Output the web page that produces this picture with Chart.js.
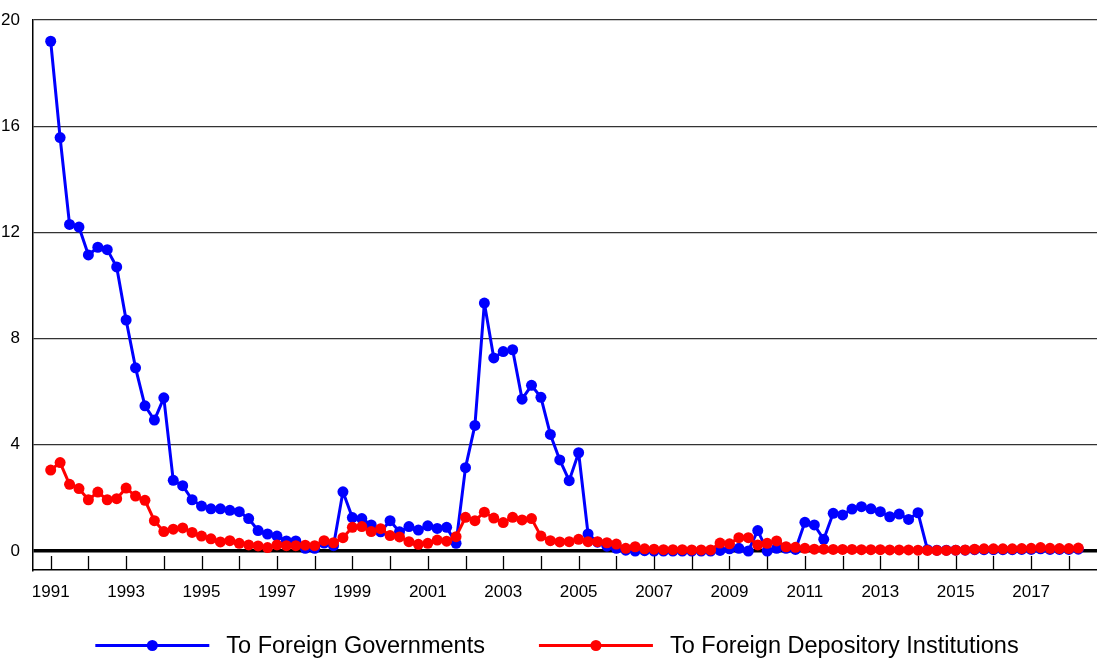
<!DOCTYPE html>
<html><head><meta charset="utf-8">
<script src="https://cdn.jsdelivr.net/npm/chart.js@4.4.0/dist/chart.umd.min.js"></script>
<style>html,body{margin:0;padding:0;background:#fff;}#wrap{width:1097px;height:662px;position:relative;}</style>
</head><body><div id="wrap"><canvas id="c" width="1097" height="662"></canvas></div>
<script>
const quarters = [
 '1991 Q1','1991 Q2','1991 Q3','1991 Q4','1992 Q1','1992 Q2','1992 Q3','1992 Q4',
 '1993 Q1','1993 Q2','1993 Q3','1993 Q4','1994 Q1','1994 Q2','1994 Q3','1994 Q4',
 '1995 Q1','1995 Q2','1995 Q3','1995 Q4','1996 Q1','1996 Q2','1996 Q3','1996 Q4',
 '1997 Q1','1997 Q2','1997 Q3','1997 Q4','1998 Q1','1998 Q2','1998 Q3','1998 Q4',
 '1999 Q1','1999 Q2','1999 Q3','1999 Q4','2000 Q1','2000 Q2','2000 Q3','2000 Q4',
 '2001 Q1','2001 Q2','2001 Q3','2001 Q4','2002 Q1','2002 Q2','2002 Q3','2002 Q4',
 '2003 Q1','2003 Q2','2003 Q3','2003 Q4','2004 Q1','2004 Q2','2004 Q3','2004 Q4',
 '2005 Q1','2005 Q2','2005 Q3','2005 Q4','2006 Q1','2006 Q2','2006 Q3','2006 Q4',
 '2007 Q1','2007 Q2','2007 Q3','2007 Q4','2008 Q1','2008 Q2','2008 Q3','2008 Q4',
 '2009 Q1','2009 Q2','2009 Q3','2009 Q4','2010 Q1','2010 Q2','2010 Q3','2010 Q4',
 '2011 Q1','2011 Q2','2011 Q3','2011 Q4','2012 Q1','2012 Q2','2012 Q3','2012 Q4',
 '2013 Q1','2013 Q2','2013 Q3','2013 Q4','2014 Q1','2014 Q2','2014 Q3','2014 Q4',
 '2015 Q1','2015 Q2','2015 Q3','2015 Q4','2016 Q1','2016 Q2','2016 Q3','2016 Q4',
 '2017 Q1','2017 Q2','2017 Q3','2017 Q4','2018 Q1','2018 Q2'
];
const foreignGovernments = [
 19.2, 15.57, 12.3, 12.2, 11.15, 11.44, 11.35, 10.7, 8.7, 6.9,
 5.47, 4.93, 5.77, 2.66, 2.46, 1.93, 1.69, 1.59, 1.59, 1.53,
 1.48, 1.22, 0.77, 0.64, 0.56, 0.38, 0.38, 0.1, 0.1, 0.3,
 0.2, 2.23, 1.26, 1.22, 0.98, 0.72, 1.14, 0.72, 0.92, 0.79,
 0.95, 0.85, 0.89, 0.29, 3.14, 4.73, 9.34, 7.27, 7.51, 7.58,
 5.72, 6.24, 5.79, 4.39, 3.43, 2.65, 3.70, 0.64, 0.33, 0.18,
 0.1, 0.03, 0, 0.01, 0, 0, 0, 0, 0, 0,
 0, 0.02, 0.08, 0.1, 0, 0.77, 0, 0.1, 0.1, 0.06,
 1.08, 0.98, 0.44, 1.42, 1.36, 1.58, 1.67, 1.59, 1.48, 1.29,
 1.39, 1.19, 1.44, 0.05, 0.03, 0.03, 0.03, 0.03, 0.05, 0.05,
 0.05, 0.05, 0.05, 0.06, 0.06, 0.08, 0.06, 0.06, 0.06, 0.07
];
const foreignDepository = [
 3.05, 3.33, 2.51, 2.35, 1.93, 2.22, 1.93, 1.97, 2.37, 2.07,
 1.91, 1.14, 0.73, 0.82, 0.87, 0.70, 0.56, 0.46, 0.34, 0.39,
 0.29, 0.23, 0.19, 0.13, 0.23, 0.2, 0.2, 0.22, 0.2, 0.39,
 0.31, 0.5, 0.89, 0.92, 0.73, 0.84, 0.58, 0.53, 0.35, 0.25,
 0.29, 0.41, 0.37, 0.54, 1.27, 1.14, 1.46, 1.24, 1.07, 1.27,
 1.17, 1.22, 0.56, 0.39, 0.34, 0.35, 0.44, 0.35, 0.35, 0.31,
 0.26, 0.1, 0.16, 0.08, 0.07, 0.05, 0.05, 0.05, 0.04, 0.04,
 0.04, 0.3, 0.27, 0.5, 0.5, 0.23, 0.29, 0.38, 0.16, 0.14,
 0.1, 0.07, 0.07, 0.06, 0.06, 0.06, 0.05, 0.05, 0.05, 0.04,
 0.04, 0.04, 0.03, 0.02, 0.02, 0.02, 0.03, 0.04, 0.07, 0.08,
 0.08, 0.08, 0.08, 0.09, 0.1, 0.13, 0.1, 0.09, 0.09, 0.11
];
const seriesNames = ['To Foreign Governments', 'To Foreign Depository Institutions'];
const seriesColors = ['#0000ff', '#ff0000'];
const yTickValues = [0, 4, 8, 12, 16, 20];
const xTickYears = [1991,1992,1993,1994,1995,1996,1997,1998,1999,2000,2001,2002,2003,2004,
  2005,2006,2007,2008,2009,2010,2011,2012,2013,2014,2015,2016,2017,2018];
const xLabelYears = [1991,1993,1995,1997,1999,2001,2003,2005,2007,2009,2011,2013,2015,2017];

const FONT = '"Liberation Sans", Arial, sans-serif';
const quarterToX = q => parseInt(q.slice(0, 4), 10) + (parseInt(q.slice(-1), 10) - 1) / 4;
const toPoints = vals => quarters.map((q, i) => ({ x: quarterToX(q), y: vals[i] }));

const tickMarks = {
  id: 'tickMarks',
  beforeDatasetsDraw(chart) {
    const { ctx, chartArea } = chart;
    const xs = chart.scales.x;
    ctx.save();
    ctx.strokeStyle = '#000';
    ctx.lineWidth = 1.3;
    xTickYears.forEach(y => {
      const px = Math.round(xs.getPixelForValue(y)) + 0.5;
      ctx.beginPath();
      ctx.moveTo(px, chartArea.bottom);
      ctx.lineTo(px, chartArea.bottom - 14);
      ctx.stroke();
    });
    ctx.restore();
  }
};

const lineLegend = {
  id: 'lineLegend',
  afterDraw(chart) {
    const { ctx } = chart;
    const lineLen = 114, gapText = 17, gapItems = 54;
    ctx.save();
    ctx.font = '23.5px ' + FONT;
    const widths = seriesNames.map(n => ctx.measureText(n).width);
    const total = widths.reduce((a, w) => a + lineLen + gapText + w, 0) + gapItems * (seriesNames.length - 1);
    let x = 557 - total / 2;
    const cy = 645.5;
    seriesNames.forEach((n, i) => {
      ctx.strokeStyle = seriesColors[i];
      ctx.fillStyle = seriesColors[i];
      ctx.lineWidth = 3;
      ctx.beginPath();
      ctx.moveTo(x, cy);
      ctx.lineTo(x + lineLen, cy);
      ctx.stroke();
      ctx.beginPath();
      ctx.arc(x + lineLen / 2, cy, 5.5, 0, Math.PI * 2);
      ctx.fill();
      ctx.fillStyle = '#000';
      ctx.textBaseline = 'middle';
      ctx.textAlign = 'left';
      ctx.fillText(n, x + lineLen + gapText, cy + 1);
      x += lineLen + gapText + widths[i] + gapItems;
    });
    ctx.restore();
  }
};

new Chart(document.getElementById('c'), {
  type: 'line',
  data: {
    datasets: [
      { label: seriesNames[0], data: toPoints(foreignGovernments), borderColor: seriesColors[0],
        backgroundColor: seriesColors[0], pointBackgroundColor: seriesColors[0], pointBorderColor: seriesColors[0],
        borderWidth: 3, borderJoinStyle: 'round', pointRadius: 5.5, pointBorderWidth: 0, tension: 0, order: 1 },
      { label: seriesNames[1], data: toPoints(foreignDepository), borderColor: seriesColors[1],
        backgroundColor: seriesColors[1], pointBackgroundColor: seriesColors[1], pointBorderColor: seriesColors[1],
        borderWidth: 3, borderJoinStyle: 'round', pointRadius: 5.5, pointBorderWidth: 0, tension: 0, order: 0 }
    ]
  },
  options: {
    responsive: false,
    animation: false,
    devicePixelRatio: 1,
    layout: { autoPadding: false, padding: { top: 20, right: 0, bottom: 62, left: 0 } },
    plugins: { legend: { display: false }, tooltip: { enabled: false } },
    scales: {
      x: {
        type: 'linear',
        min: 1990.531,
        max: 2018.746,
        afterFit: s => { s.height = 30; s.paddingLeft = 0; s.paddingRight = 0; },
        afterBuildTicks: s => { s.ticks = xTickYears.map(v => ({ value: v })); },
        ticks: {
          autoSkip: false, maxRotation: 0, padding: 12,
          color: '#000', font: { family: FONT, size: 17 },
          callback: v => xLabelYears.includes(v) ? String(v) : ''
        },
        grid: { display: false, drawOnChartArea: false, drawTicks: false },
        border: { display: true, color: '#000', width: 1.5 }
      },
      y: {
        min: -0.716,
        max: 20,
        afterFit: s => { s.width = 33; s.paddingTop = 0; s.paddingBottom = 0; },
        afterBuildTicks: s => { s.ticks = yTickValues.map(v => ({ value: v })); },
        ticks: { padding: 13, color: '#000', font: { family: FONT, size: 17 } },
        grid: {
          drawTicks: false,
          color: c => c.tick && c.tick.value === 0 ? '#000' : '#333',
          lineWidth: c => c.tick && c.tick.value === 0 ? 3.5 : 1.3
        },
        border: { display: true, color: '#000', width: 1.5 }
      }
    }
  },
  plugins: [tickMarks, lineLegend]
});
</script></body></html>
